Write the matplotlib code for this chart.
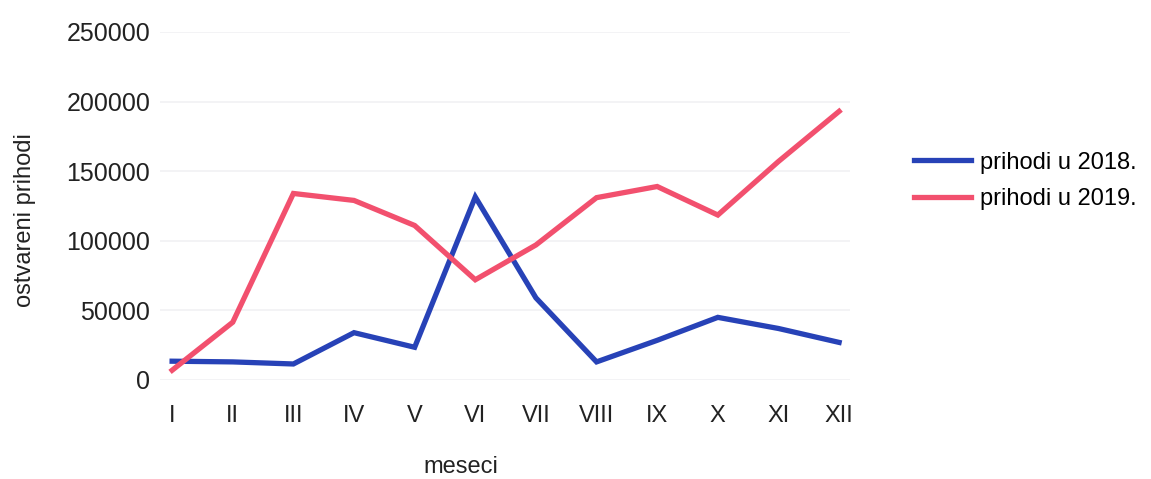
import numpy as np
import matplotlib
matplotlib.use("Agg")
import matplotlib.pyplot as plt

# monthly revenue, 2018 vs 2019
meseci = ["I", "II", "III", "IV", "V", "VI", "VII", "VIII", "IX", "X", "XI", "XII"]
prihodi_2018 = [13500, 13000, 11500, 34000, 23500, 131500, 59000, 13000, 28500, 45000, 37000, 27000]
prihodi_2019 = [7000, 41500, 134000, 129000, 111000, 72000, 97000, 131000, 139000, 118500, 157000, 193000]
y_ticks = [0, 50000, 100000, 150000, 200000, 250000]

BLUE = "#2742b7"
PINK = "#f2506e"

plt.rcParams["font.family"] = ["Liberation Sans", "DejaVu Sans"]

fig = plt.figure(figsize=(11.51, 4.79), dpi=100)
ax = fig.add_axes([0.139, 0.2067, 0.5995, 0.7265])

x = np.arange(len(meseci))
ax.plot(x, prihodi_2018, color=BLUE, lw=3.8, solid_joinstyle="miter", label="prihodi u 2018.")
ax.plot(x, prihodi_2019, color=PINK, lw=3.8, solid_joinstyle="miter", label="prihodi u 2019.")

ax.set_xlim(-0.2, 11.18)
ax.set_ylim(0, 250000)
ax.set_xticks(x)
ax.set_xticklabels(meseci)
ax.set_yticks(y_ticks)
ax.set_yticklabels([str(v) for v in y_ticks])
ax.tick_params(axis="both", length=0, labelsize=17, colors="#222222")
ax.tick_params(axis="y", labelsize=18, pad=7)
ax.tick_params(axis="x", pad=18)

# faint horizontal grid
ax.grid(axis="y", color="#f1f1f4", lw=1.2)
ax.set_axisbelow(True)
for s in ax.spines.values():
    s.set_visible(False)

fig.text(0.022, 0.54, "ostvareni prihodi", rotation=90, ha="center", va="center",
         fontsize=17, color="#222222")
fig.text(0.40, 0.025, "meseci", ha="center", va="center", fontsize=17, color="#222222")

ax.legend(loc="center left", bbox_to_anchor=(0.786, 0.622), bbox_transform=fig.transFigure,
          frameon=False, fontsize=17, handlelength=2.4, handletextpad=0.4,
          labelspacing=0.62, borderaxespad=0)

fig.savefig("out.png", dpi=100)
